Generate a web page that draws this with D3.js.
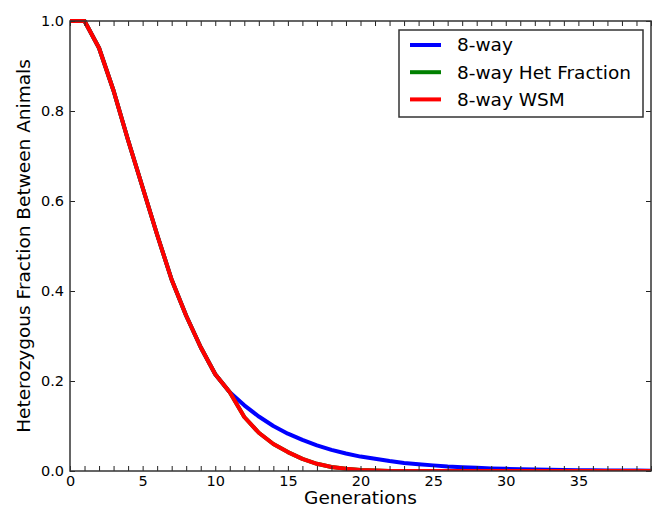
<!DOCTYPE html>
<html>
<head>
<meta charset="utf-8">
<script src="https://cdn.jsdelivr.net/npm/d3@7"></script>
<style>
  html, body { margin: 0; padding: 0; background: #fff; }
  svg { display: block; font-family: "DejaVu Sans", sans-serif; }
</style>
</head>
<body>
<svg id="chart" width="653" height="508"></svg>
<script>
// ---- data ----
const generations = d3.range(0, 41);
const eightWay = [1.0, 1.0, 0.94, 0.845, 0.735, 0.63, 0.525, 0.425, 0.345, 0.275, 0.215,
  0.175, 0.146, 0.121, 0.100, 0.083, 0.069, 0.057, 0.047, 0.039, 0.032,
  0.027, 0.022, 0.018, 0.015, 0.0125, 0.010, 0.0085, 0.007, 0.0058, 0.0048,
  0.004, 0.0033, 0.0027, 0.0023, 0.0019, 0.0015, 0.0013, 0.0011, 0.0009, 0.0008];
const eightWayHet = [1.0, 1.0, 0.94, 0.845, 0.735, 0.63, 0.525, 0.425, 0.345, 0.275, 0.215,
  0.175, 0.12, 0.085, 0.06, 0.042, 0.027, 0.016, 0.009, 0.005, 0.002,
  0.001, 0, 0, 0, 0, 0, 0, 0, 0, 0, 0, 0, 0, 0, 0, 0, 0, 0, 0, 0];
const eightWayWSM = [1.0, 1.0, 0.94, 0.845, 0.735, 0.63, 0.525, 0.425, 0.345, 0.275, 0.215,
  0.175, 0.12, 0.085, 0.06, 0.042, 0.027, 0.016, 0.009, 0.005, 0.002,
  0.001, 0, 0, 0, 0, 0, 0, 0, 0, 0, 0, 0, 0, 0, 0, 0, 0, 0, 0, 0];
const seriesNames = ["8-way", "8-way Het Fraction", "8-way WSM"];
const seriesColors = ["#0000ff", "#008000", "#ff0000"];
const xTickLabels = [0, 5, 10, 15, 20, 25, 30, 35];
const yTickLabels = [0.0, 0.2, 0.4, 0.6, 0.8, 1.0];
const xLabel = "Generations";
const yLabel = "Heterozygous Fraction Between Animals";

// ---- layout ----
const margin = {left: 70, right: 2, top: 21, bottom: 37};
const W = 653, H = 508;
const svg = d3.select("#chart");
const x = d3.scaleLinear().domain([0, 40]).range([margin.left, W - margin.right]);
const y = d3.scaleLinear().domain([0, 1]).range([H - margin.bottom, margin.top]);

const series = [eightWay, eightWayHet, eightWayWSM];
const line = d3.line().x((d, i) => x(generations[i])).y(d => y(d));

svg.append("clipPath").attr("id", "clip").append("rect")
  .attr("x", x(0)).attr("y", y(1) - 3).attr("width", x(40) - x(0)).attr("height", y(0) - y(1) + 3);

const g = svg.append("g").attr("clip-path", "url(#clip)");
series.forEach((s, k) => {
  g.append("path").datum(s).attr("d", line)
    .attr("fill", "none").attr("stroke", seriesColors[k]).attr("stroke-width", 4)
    .attr("stroke-linejoin", "round");
});

// axes: ticks inward on all four sides
const tickCol = "#222";
const xMinor = d3.range(0, 41);
const axB = svg.append("g").attr("transform", `translate(0,${y(0)})`)
  .call(d3.axisBottom(x).tickValues(xMinor).tickSize(-5).tickPadding(5)
    .tickFormat(d => xTickLabels.includes(d) ? d : ""));
const axT = svg.append("g").attr("transform", `translate(0,${y(1)})`)
  .call(d3.axisTop(x).tickValues(xMinor).tickSize(-5).tickFormat(""));
const axL = svg.append("g").attr("transform", `translate(${x(0)},0)`)
  .call(d3.axisLeft(y).tickValues(yTickLabels).tickSize(-5).tickPadding(6).tickFormat(d3.format(".1f")));
const axR = svg.append("g").attr("transform", `translate(${x(40)},0)`)
  .call(d3.axisRight(y).tickValues(yTickLabels).tickSize(-5).tickFormat(""));
[axB, axT, axL, axR].forEach(a => {
  a.select(".domain").remove();
  a.selectAll(".tick line").attr("stroke", tickCol).attr("stroke-width", 1);
  a.selectAll("text").attr("fill", "#000").attr("font-size", 14.5).attr("font-family", "DejaVu Sans");
});

svg.append("rect").attr("x", x(0)).attr("y", y(1)).attr("width", x(40) - x(0)).attr("height", y(0) - y(1))
  .attr("fill", "none").attr("stroke", "#333").attr("stroke-width", 1.5);

// axis labels
svg.append("text").attr("x", (x(0) + x(40)) / 2).attr("y", 504).attr("text-anchor", "middle")
  .attr("font-size", 18.5).text(xLabel);
svg.append("text").attr("transform", `translate(30,${(y(0) + y(1)) / 2}) rotate(-90)`)
  .attr("text-anchor", "middle").attr("font-size", 18.5).text(yLabel);

// legend
const leg = svg.append("g");
leg.append("rect").attr("x", 399).attr("y", 30).attr("width", 244).attr("height", 87)
  .attr("fill", "#fff").attr("stroke", "#333").attr("stroke-width", 1.5);
seriesNames.forEach((n, k) => {
  const yy = 45 + k * 27.2;
  leg.append("line").attr("x1", 410).attr("x2", 441).attr("y1", yy).attr("y2", yy)
    .attr("stroke", seriesColors[k]).attr("stroke-width", 4);
  leg.append("text").attr("x", 457).attr("y", yy + 6.3).attr("font-size", 18.5).text(n);
});
</script>
</body>
</html>
